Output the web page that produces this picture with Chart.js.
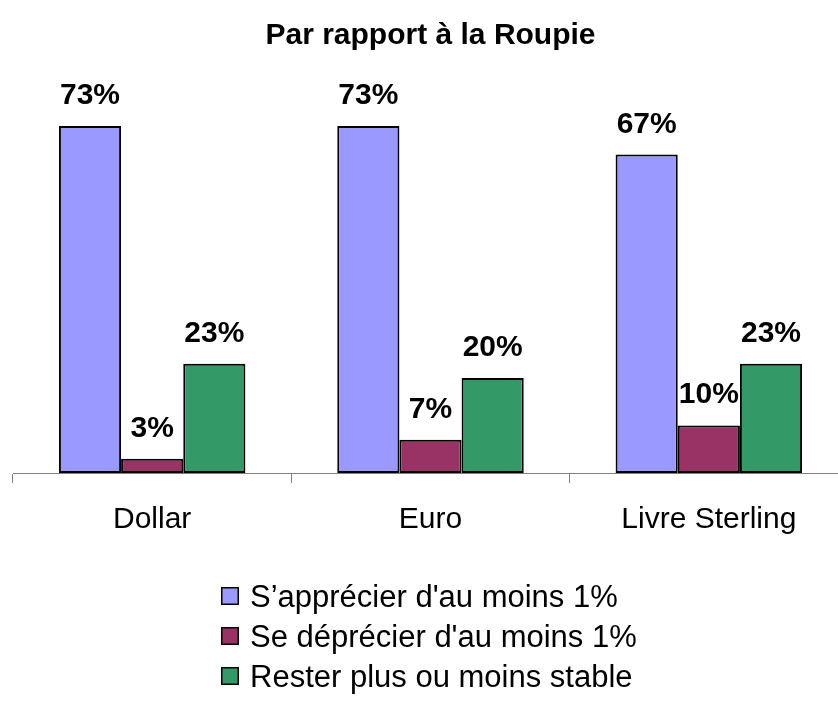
<!DOCTYPE html>
<html lang="fr">
<head>
  <meta charset="UTF-8">
  <title>Par rapport à la Roupie</title>
  <script src="https://cdn.jsdelivr.net/npm/chart.js"></script>
  <style>
    html, body { margin: 0; padding: 0; background: #fff; overflow: hidden; }
    #wrap { width: 838px; height: 703px; overflow: hidden; }
  </style>
</head>
<body>
  <div id="wrap"><canvas id="chart" width="848" height="703"></canvas></div>
  <script>
    const categories = ['Dollar', 'Euro', 'Livre Sterling'];
    const seriesNames = ["S\u2019apprécier d'au moins 1%", "Se déprécier d'au moins 1%", 'Rester plus ou moins stable'];
    const apprecier = [73, 73, 67];
    const deprecier = [3, 7, 10];
    const stable = [23, 20, 23];
    const colors = ['#9999FF', '#993366', '#339966'];

    const FONT = 'Arial, "Liberation Sans", sans-serif';

    // percent labels above each bar
    const valueLabels = {
      id: 'valueLabels',
      afterDatasetsDraw(chart) {
        const ctx = chart.ctx;
        ctx.save();
        ctx.font = 'bold 30px ' + FONT;
        ctx.fillStyle = '#000';
        ctx.textAlign = 'center';
        ctx.textBaseline = 'alphabetic';
        chart.data.datasets.forEach((ds, i) => {
          chart.getDatasetMeta(i).data.forEach((bar, j) => {
            ctx.fillText(ds.data[j] + '%', bar.x, bar.y - 22);
          });
        });
        ctx.restore();
      }
    };

    // stacked legend under the axis, one entry per row
    const stackedLegend = {
      id: 'stackedLegend',
      afterDraw(chart) {
        const ctx = chart.ctx;
        ctx.save();
        ctx.font = '31px ' + FONT;
        ctx.textBaseline = 'middle';
        ctx.textAlign = 'left';
        const left = 221, top = 596, gap = 40, box = 18;
        chart.data.datasets.forEach((ds, i) => {
          const y = top + i * gap;
          ctx.fillStyle = ds.backgroundColor;
          ctx.fillRect(left, y - box / 2, box, box);
          ctx.strokeStyle = '#000';
          ctx.lineWidth = 1.5;
          ctx.strokeRect(left + 0.75, y - box / 2 + 0.75, box - 1.5, box - 1.5);
          ctx.fillStyle = '#000';
          ctx.fillText(ds.label, left + box + 11, y + 2);
        });
        ctx.restore();
      }
    };

    new Chart(document.getElementById('chart'), {
      type: 'bar',
      data: {
        labels: categories,
        datasets: [
          { label: seriesNames[0], data: apprecier, backgroundColor: colors[0] },
          { label: seriesNames[1], data: deprecier, backgroundColor: colors[1] },
          { label: seriesNames[2], data: stable, backgroundColor: colors[2] }
        ].map(d => Object.assign(d, {
          borderColor: '#000', borderWidth: 2, borderSkipped: false,
          categoryPercentage: 0.67, barPercentage: 1
        }))
      },
      options: {
        responsive: false,
        animation: false,
        layout: { padding: { left: 13, right: 0, top: 0, bottom: 163 } },
        plugins: {
          legend: { display: false },
          tooltip: { enabled: false },
          title: {
            display: true,
            text: 'Par rapport à la Roupie',
            color: '#000',
            font: { family: FONT, size: 30, weight: 'bold' },
            padding: { top: 18, bottom: 15 }
          }
        },
        scales: {
          x: {
            grid: { drawOnChartArea: false, drawTicks: true, tickLength: 10, color: '#808080', offset: true },
            border: { color: '#808080', width: 1 },
            ticks: { color: '#000', font: { family: FONT, size: 30 }, padding: 19 },
            afterFit(scale) { scale.height = 67; }
          },
          y: {
            display: false,
            min: 0,
            max: 85
          }
        }
      },
      plugins: [valueLabels, stackedLegend]
    });
  </script>
</body>
</html>
